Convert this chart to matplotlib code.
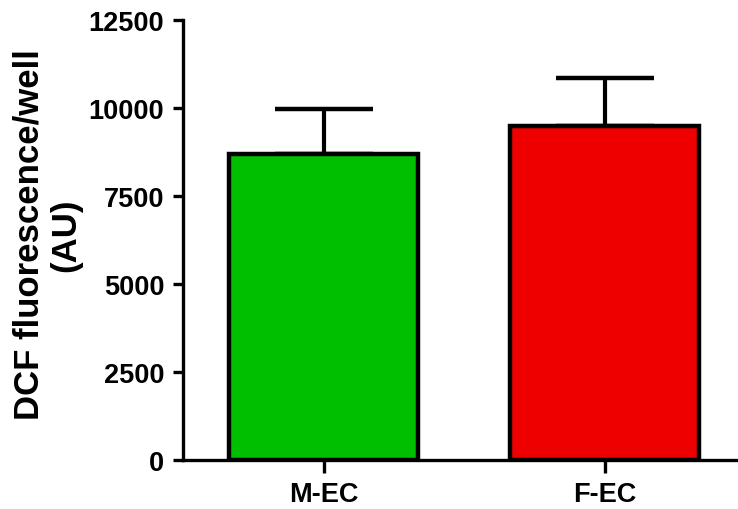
import matplotlib
matplotlib.use("Agg")
import matplotlib.pyplot as plt

# data
groups = ["M-EC", "F-EC"]
means = [8690, 9490]
sems = [1290, 1360]
colors = ["#00bf00", "#ef0000"]
yticks = [0, 2500, 5000, 7500, 10000, 12500]

plt.rcParams["font.family"] = ["Liberation Sans", "DejaVu Sans"]
plt.rcParams["font.weight"] = "bold"

fig = plt.figure(figsize=(7.38, 5.10), dpi=100)
# axes run past the right edge so the x axis line is cut by the frame
ax = fig.add_axes([183 / 738, 49 / 510, 600 / 738, 440 / 510])

x = list(range(len(groups)))
ax.errorbar(x, means, yerr=[[0] * len(sems), sems], fmt="none", ecolor="black",
            elinewidth=3, capsize=35, capthick=3.2, zorder=1)
ax.bar(x, means, width=0.67, color=colors, edgecolor="black", linewidth=3.2, zorder=2)

ax.set_xlim(-0.5, -0.5 + 600 / 281)
ax.set_ylim(0, 12500)
ax.set_yticks(yticks)
ax.set_xticks(x)
ax.set_xticklabels(groups)

for side in ["top", "right"]:
    ax.spines[side].set_visible(False)
for side in ["left", "bottom"]:
    ax.spines[side].set_linewidth(2.4)

ax.tick_params(axis="both", direction="out", width=2.4, labelsize=19.5)
ax.tick_params(axis="y", length=7.5, pad=6)
ax.tick_params(axis="x", length=9, pad=6)
for lbl in ax.get_xticklabels() + ax.get_yticklabels():
    lbl.set_fontweight("bold")

ax.set_ylabel("DCF fluorescence/well\n(AU)", fontsize=25, fontweight="bold",
              linespacing=1.15)
ax.yaxis.set_label_coords(-0.168, 0.514)

fig.savefig("out.png", dpi=100)
